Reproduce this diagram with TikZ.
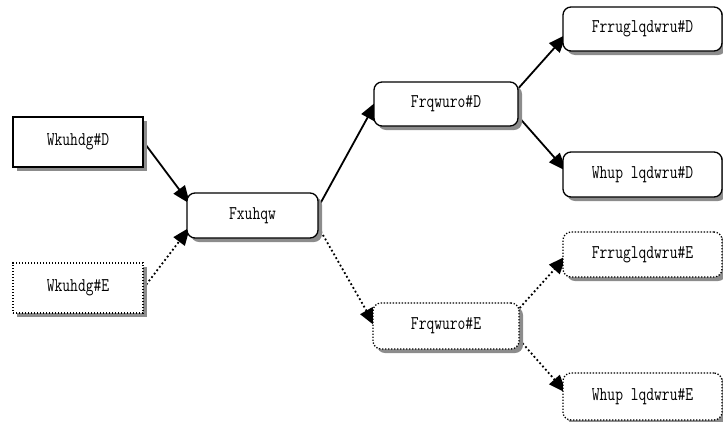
\documentclass[tikz,border=0pt]{standalone}
\usepackage{fontspec}
\usepackage{graphicx}
\usetikzlibrary{shadows,arrows.meta,calc}
\pgfdeclarelayer{background}
\pgfsetlayers{background,main}
\newcommand{\boxtext}[1]{\scalebox{0.84}[1.08]{#1}}
\tikzset{
  box/.style={draw, line width=1.3pt, fill=white, inner sep=0pt,
    font=\ttfamily\fontsize{18}{21}\selectfont,
    drop shadow={shadow xshift=4pt, shadow yshift=-4pt, fill=black!45, opacity=1}},
  sharpbox/.style={box},
  roundbox/.style={box, rounded corners=8pt},
  dotbox/.style={dash pattern=on 1.3pt off 1.7pt},
  solidarrow/.style={line width=1.8pt, -{Triangle[length=18pt,width=14pt]}, shorten >=-6pt},
  dotarrow/.style={solidarrow, dash pattern=on 1.8pt off 2.5pt},
}
\begin{document}
\begin{tikzpicture}[x=1pt,y=-1pt]
\useasboundingbox (0,0) rectangle (723,421);
\node[sharpbox, minimum width=130pt, minimum height=50pt] (tA) at (78,142) {\boxtext{Wkuhdg\#D}};
\node[sharpbox, dotbox, minimum width=130pt, minimum height=50pt] (tB) at (78,288) {\boxtext{Wkuhdg\#E}};
\node[roundbox, minimum width=131pt, minimum height=45pt] (cur) at (252.5,215.5) {\boxtext{Fxuhqw}};
\node[roundbox, minimum width=144pt, minimum height=44pt] (ctA) at (446,104) {\boxtext{Frqwuro\#D}};
\node[roundbox, dotbox, minimum width=146pt, minimum height=46pt] (ctB) at (446,326) {\boxtext{Frqwuro\#E}};
\node[roundbox, minimum width=159pt, minimum height=44pt] (coA) at (642.5,29) {\boxtext{Frruglqdwru\#D}};
\node[roundbox, minimum width=159pt, minimum height=45pt] (teA) at (642.5,174.5) {\boxtext{Whup lqdwru\#D}};
\node[roundbox, dotbox, minimum width=159pt, minimum height=45pt] (coB) at (642.5,254.5) {\boxtext{Frruglqdwru\#E}};
\node[roundbox, dotbox, minimum width=159pt, minimum height=47pt] (teB) at (642.5,396.5) {\boxtext{Whup lqdwru\#E}};
\begin{pgfonlayer}{background}
\draw[solidarrow] (tA.east) -- ([yshift=16.5pt]cur.west);
\draw[dotarrow] (tB.east) -- ([yshift=-16.5pt]cur.west);
\draw[solidarrow] ([yshift=9pt]cur.east) -- ([yshift=-3pt]ctA.west);
\draw[dotarrow] ([yshift=-12pt]cur.east) -- ([yshift=5pt]ctB.west);
\draw[solidarrow] ([yshift=16pt]ctA.east) -- ([yshift=-10pt]coA.west);
\draw[solidarrow] ([yshift=-13pt]ctA.east) -- ([yshift=8pt]teA.west);
\draw[dotarrow] ([yshift=18pt]ctB.east) -- ([yshift=-6pt]coB.west);
\draw[dotarrow] ([yshift=-14pt]ctB.east) -- ([yshift=8pt]teB.west);
\end{pgfonlayer}
\end{tikzpicture}
\end{document}
